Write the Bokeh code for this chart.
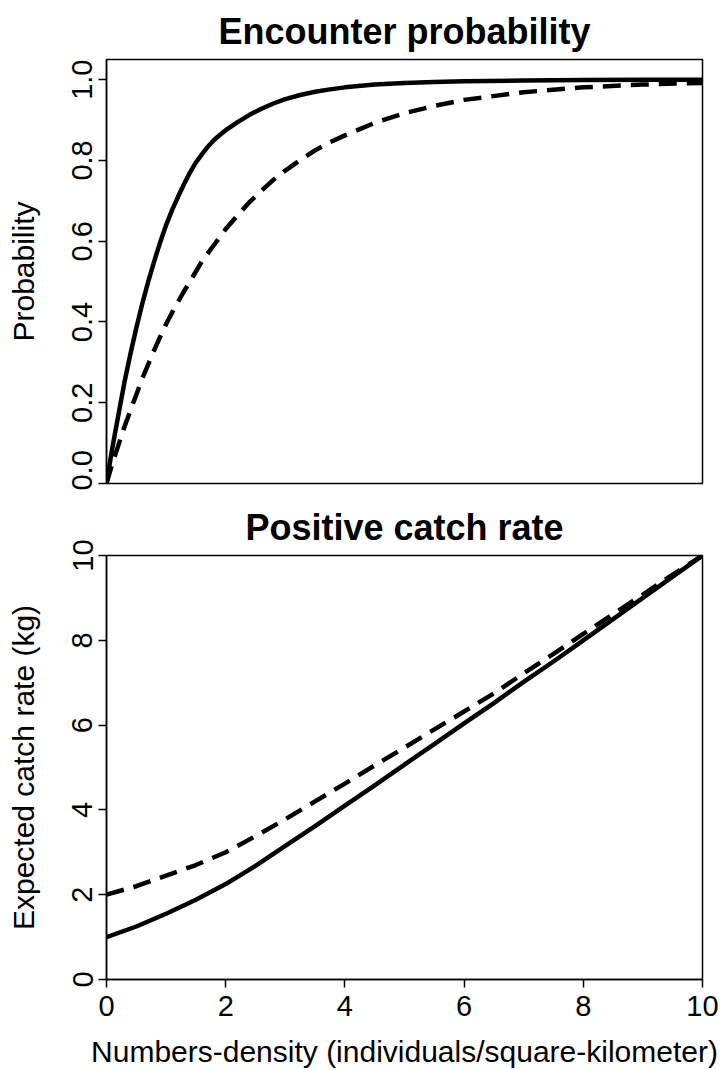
from bokeh.plotting import figure
from bokeh.layouts import column
from bokeh.models import Range1d, FixedTicker, Title
from bokeh.embed import file_html
from bokeh.resources import INLINE

# ---- data ----
density_top = [0, 0.1, 0.2, 0.3, 0.4, 0.5, 0.6, 0.7, 0.8, 0.9, 1.0, 1.1, 1.2, 1.3,
               1.4, 1.5, 1.6, 1.7, 1.8, 1.9, 2.0, 2.2, 2.4, 2.6, 2.8, 3.0, 3.25, 3.5,
               3.75, 4.0, 4.5, 5, 5.5, 6, 7, 8, 9, 10]
enc_solid = [0, 0.09, 0.17, 0.25, 0.32, 0.385, 0.445, 0.5, 0.55, 0.597, 0.64, 0.677,
             0.71, 0.741, 0.77, 0.795, 0.815, 0.834, 0.85, 0.863, 0.875, 0.895, 0.913,
             0.928, 0.941, 0.952, 0.962, 0.97, 0.976, 0.981, 0.988, 0.992, 0.994,
             0.996, 0.998, 0.999, 1.0, 1.0]
enc_dashed = [0, 0.05, 0.095, 0.14, 0.18, 0.22, 0.26, 0.295, 0.33, 0.363, 0.395,
              0.423, 0.45, 0.476, 0.5, 0.525, 0.55, 0.57, 0.59, 0.61, 0.63, 0.664,
              0.697, 0.725, 0.752, 0.775, 0.801, 0.825, 0.845, 0.862, 0.893, 0.917,
              0.935, 0.95, 0.969, 0.981, 0.988, 0.992]

density_bot = [0, 0.5, 1, 1.5, 2, 2.5, 3, 3.5, 4, 4.5, 5, 5.5, 6, 6.5, 7, 7.5, 8,
               8.5, 9, 9.5, 10]
catch_solid = [1.0, 1.25, 1.55, 1.88, 2.25, 2.68, 3.15, 3.62, 4.1, 4.58, 5.07, 5.55,
               6.04, 6.52, 7.02, 7.5, 8.0, 8.5, 9.0, 9.5, 10.0]
catch_dashed = [2.0, 2.2, 2.45, 2.7, 3.0, 3.38, 3.78, 4.2, 4.62, 5.05, 5.47, 5.9,
                6.32, 6.75, 7.22, 7.68, 8.15, 8.62, 9.08, 9.55, 10.0]

top_yticks = [0, 0.2, 0.4, 0.6, 0.8, 1.0]
top_ylabels = {0: "0.0", 0.2: "0.2", 0.4: "0.4", 0.6: "0.6", 0.8: "0.8", 1.0: "1.0"}
bot_ticks = [0, 2, 4, 6, 8, 10]

FONT = "Liberation Sans"
TICK_FS = "29px"
LAB_FS = "30px"
TITLE_FS = "36px"


def style_axis(ax, ticks, overrides=None):
    ax.ticker = FixedTicker(ticks=ticks)
    if overrides:
        ax.major_label_overrides = overrides
    ax.minor_tick_line_color = None
    ax.major_tick_in = 0
    ax.major_tick_out = 8
    ax.major_tick_line_width = 1.5
    ax.axis_line_width = 1.5
    ax.major_label_text_font = FONT
    ax.major_label_text_font_size = TICK_FS
    ax.major_label_text_color = "black"
    ax.axis_label_text_font = FONT
    ax.axis_label_text_font_size = LAB_FS
    ax.axis_label_text_font_style = "normal"
    ax.axis_label_text_color = "black"


def make_fig(title, xr, yr, min_top, min_bottom):
    p = figure(frame_width=596, frame_height=424, x_range=xr, y_range=yr,
               output_backend="svg", toolbar_location=None,
               min_border_left=106, min_border_right=18,
               min_border_top=min_top, min_border_bottom=min_bottom)
    p.title = Title(text=title, align="center", text_font=FONT,
                    text_font_size=TITLE_FS, text_font_style="bold",
                    text_color="black", standoff=12, vertical_align="top")
    p.xgrid.visible = False
    p.ygrid.visible = False
    p.outline_line_color = "black"
    p.outline_line_width = 1.5
    p.outline_line_alpha = 1.0
    p.background_fill_color = "white"
    p.border_fill_color = "white"
    return p


# ---- top panel ----
p1 = make_fig("Encounter probability", Range1d(0, 10), Range1d(0, 1.05), 59, 7)
p1.xaxis.visible = False
style_axis(p1.yaxis[0], top_yticks, top_ylabels)
p1.yaxis.axis_label = "Probability"
p1.yaxis.major_label_orientation = "parallel"
p1.yaxis.major_label_standoff = 6
p1.yaxis.axis_label_standoff = 30
p1.line(density_top, enc_solid, line_color="black", line_width=4.5,
        line_join="round")
p1.line(density_top, enc_dashed, line_color="black", line_width=4.5,
        line_dash="18 10")

# ---- bottom panel ----
p2 = make_fig("Positive catch rate", Range1d(0, 10), Range1d(0, 10), 65, 91)
style_axis(p2.xaxis[0], bot_ticks)
style_axis(p2.yaxis[0], bot_ticks)
p2.xaxis.axis_label = "Numbers-density (individuals/square-kilometer)"
p2.yaxis.axis_label = "Expected catch rate (kg)"
p2.yaxis.major_label_orientation = "parallel"
p2.yaxis.major_label_standoff = 6
p2.yaxis.axis_label_standoff = 30
p2.xaxis.major_label_standoff = 8
p2.xaxis.axis_label_standoff = 16
p2.line(density_bot, catch_solid, line_color="black", line_width=4.5,
        line_join="round")
p2.line(density_bot, catch_dashed, line_color="black", line_width=4.5,
        line_dash="18 10")

layout = column(p1, p2, spacing=0)

open("out.html", "w").write(file_html(layout, INLINE))
